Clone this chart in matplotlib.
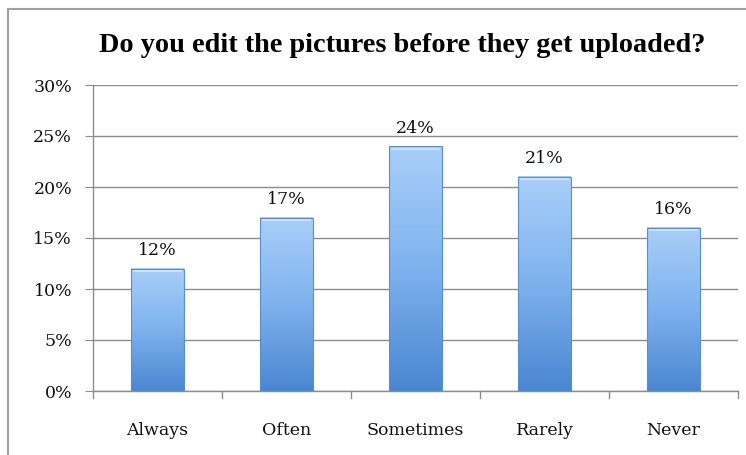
import numpy as np
import matplotlib.pyplot as plt
from matplotlib.patches import Rectangle
from matplotlib.colors import LinearSegmentedColormap

categories = ["Always", "Often", "Sometimes", "Rarely", "Never"]
values = [12, 17, 24, 21, 16]
y_ticks = [0, 5, 10, 15, 20, 25, 30]
title = "Do you edit the pictures before they get uploaded?"

W, H = 746, 455
fig = plt.figure(figsize=(W / 100, H / 100), dpi=100)
fig.patch.set_facecolor("white")

# outer chart frame
fig.patches.append(Rectangle((8 / W, -0.05), 1.1, 1 - 9 / H + 0.05,
                             transform=fig.transFigure, fill=False,
                             edgecolor="#a0a0a0", linewidth=1.5))

ax = fig.add_axes([93 / W, 1 - 391 / H, (738 - 93) / W, (391 - 85) / H])
ax.set_xlim(-0.5, len(categories) - 0.5)
ax.set_ylim(0, 30)

label_font = ["DejaVu Serif"]
title_font = ["Liberation Serif", "DejaVu Serif"]

# grid
for t in y_ticks:
    ax.axhline(t, color="#8c8c8c", linewidth=1.0, zorder=0)

cmap = LinearSegmentedColormap.from_list("bar", ["#4a86d0", "#7eb2ee", "#a9cff9"])
bar_w = 0.41
for i, v in enumerate(values):
    x0, x1 = i - bar_w / 2, i + bar_w / 2
    grad = np.linspace(0, 1, 256).reshape(-1, 1)
    ax.imshow(grad, extent=(x0, x1, 0, v), origin="lower", cmap=cmap,
              aspect="auto", zorder=2)
    # bevel edges
    ax.add_patch(Rectangle((x0, 0), bar_w, v, fill=False,
                           edgecolor="#5a8fcf", linewidth=0.8, zorder=3))
    ax.plot([x0 + 0.02, x1 - 0.02], [v - 0.25, v - 0.25],
            color="#d4e6fc", linewidth=1.2, zorder=3)
    ax.text(i, v + 0.95, f"{v}%", ha="center", va="bottom",
            fontsize=12.5, family=label_font, color="#111111")

ax.set_yticks(y_ticks)
ax.set_yticklabels([f"{t}%" for t in y_ticks], family=label_font,
                   fontsize=12.5, color="#111111")
ax.set_xticks(range(len(categories)))
ax.set_xticklabels(categories, family=label_font, fontsize=12.5,
                   color="#111111")
ax.tick_params(axis="x", length=0, pad=22)
ax.tick_params(axis="y", length=6, color="#8c8c8c", pad=9)

# category separators on the x axis
for b in np.arange(-0.5, len(categories), 1.0):
    ax.plot([b, b], [0, -0.7], color="#8c8c8c", linewidth=1.0,
            clip_on=False, zorder=1)

for s in ["top", "right"]:
    ax.spines[s].set_visible(False)
for s in ["left", "bottom"]:
    ax.spines[s].set_color("#8c8c8c")
    ax.spines[s].set_linewidth(1.0)

fig.text(402 / W, 1 - 45 / H, title, ha="center", va="center",
         fontsize=20.3, fontweight="bold", family=title_font)

fig.savefig("out.png", dpi=100)
